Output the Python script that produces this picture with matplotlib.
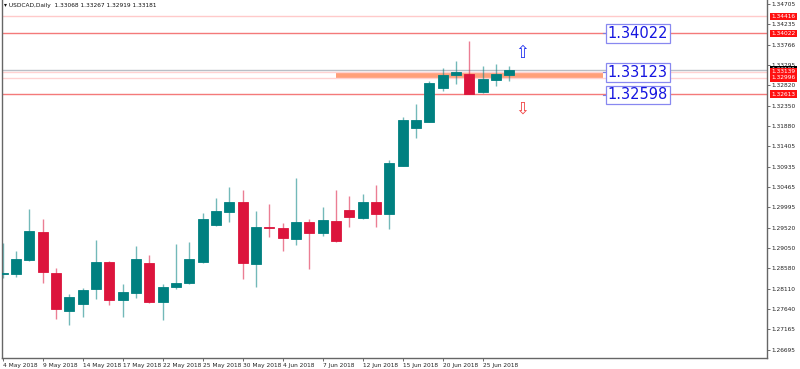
import numpy as np
import matplotlib
matplotlib.use('Agg')
import matplotlib.pyplot as plt
import matplotlib.transforms as mtransforms

# USDCAD daily bars, 4 May 2018 .. 27 Jun 2018
dates = ['4 May', '7 May', '8 May', '9 May', '10 May', '11 May', '14 May',
         '15 May', '16 May', '17 May', '18 May', '21 May', '22 May', '23 May',
         '24 May', '25 May', '28 May', '29 May', '30 May', '31 May', '1 Jun',
         '4 Jun', '5 Jun', '6 Jun', '7 Jun', '8 Jun', '11 Jun', '12 Jun',
         '13 Jun', '14 Jun', '15 Jun', '18 Jun', '19 Jun', '20 Jun', '21 Jun',
         '22 Jun', '25 Jun', '26 Jun', '27 Jun']
opens = [1.28449, 1.28449, 1.28774, 1.29422, 1.28472, 1.27592, 1.27754,
         1.28102, 1.28727, 1.27847, 1.28009, 1.28704, 1.27800, 1.28148,
         1.28241, 1.28727, 1.29584, 1.29886, 1.30117, 1.28681, 1.29538,
         1.29515, 1.29260, 1.29654, 1.29399, 1.29677, 1.29932, 1.29747,
         1.30117, 1.29839, 1.30951, 1.31832, 1.31971, 1.32759, 1.33060,
         1.33083, 1.32666, 1.32944, 1.33068]
highs = [1.29167, 1.28982, 1.29955, 1.29723, 1.28588, 1.27986, 1.28125,
         1.29237, 1.28750, 1.28217, 1.29098, 1.28889, 1.28217, 1.29144,
         1.29191, 1.29862, 1.30210, 1.30465, 1.30395, 1.29909, 1.30071,
         1.29631, 1.30673, 1.29723, 1.30001, 1.30395, 1.30256, 1.30303,
         1.30511, 1.31090, 1.32087, 1.32388, 1.32921, 1.33222, 1.33384,
         1.33848, 1.33268, 1.33315, 1.33267]
lows = [1.28356, 1.28380, 1.28750, 1.28241, 1.27406, 1.27267, 1.27453,
        1.27870, 1.27731, 1.27453, 1.27893, 1.27777, 1.27383, 1.28102,
        1.28217, 1.28704, 1.29561, 1.29654, 1.28333, 1.28148, 1.29306,
        1.28982, 1.29121, 1.28565, 1.29330, 1.29191, 1.29538, 1.29723,
        1.29538, 1.29492, 1.30951, 1.31600, 1.31971, 1.32689, 1.32851,
        1.32620, 1.32643, 1.32805, 1.32919]
closes = [1.28472, 1.28797, 1.29445, 1.28495, 1.27638, 1.27916, 1.28078,
          1.28727, 1.27847, 1.28032, 1.28797, 1.27800, 1.28148, 1.28241,
          1.28797, 1.29723, 1.29909, 1.30117, 1.28704, 1.29538, 1.29515,
          1.29283, 1.29654, 1.29399, 1.29700, 1.29214, 1.29770, 1.30117,
          1.29839, 1.31021, 1.32017, 1.32017, 1.32875, 1.33060, 1.33129,
          1.32620, 1.32967, 1.33083, 1.33181]

# levels drawn on the chart
resistance_levels = [1.34022, 1.33123, 1.32598]
alert_lines = [1.34416, 1.34022, 1.33139, 1.32996, 1.32613]
zone_top, zone_bottom = 1.33129, 1.32990
zone_start, zone_end = 25, 45
bid = 1.33181
arrow_bar = 39
arrow_up, arrow_down = 1.33560, 1.32290

price_ticks = [1.34705, 1.34235, 1.33766, 1.33295, 1.32820, 1.32350, 1.31880,
               1.31405, 1.30935, 1.30465, 1.29995, 1.29520, 1.29050, 1.28580,
               1.28110, 1.27640, 1.27165, 1.26695]

BULL = '#008080'
BEAR = '#DC143C'

fig = plt.figure(figsize=(8, 3.69), dpi=100)
ax = fig.add_axes([2 / 800, 11 / 369, 765 / 800, 358 / 369])

x = np.arange(len(dates))
o = np.array(opens)
c = np.array(closes)
cols = [BULL if cc >= oo else BEAR for oo, cc in zip(o, c)]

# zone + lines
ax.fill_between([zone_start, zone_end], zone_bottom, zone_top,
                color='#FFA07A', lw=0, zorder=1)
ax.axhline(alert_lines[0], color='#FFCACA', lw=1, zorder=1)
ax.axhline(alert_lines[1], color='#F47A7A', lw=1, zorder=1)
ax.axhline(alert_lines[2], color='#FFD2D2', lw=1, zorder=1)
ax.axhline(alert_lines[3], color='#FFD2D2', lw=1, zorder=1)
ax.axhline(alert_lines[4], color='#F47A7A', lw=1, zorder=1)
ax.axhline(bid, color='#B8BEC6', lw=1, zorder=1)

# candles
ax.vlines(x, lows, highs, colors=cols, lw=1, alpha=0.55, zorder=2)
body = np.maximum(np.abs(c - o), 0.00004)
ax.bar(x, body, bottom=np.minimum(o, c), width=0.75, color=cols,
       edgecolor=cols, linewidth=0.6, zorder=3)

# boxed level labels
for lvl in resistance_levels:
    ax.plot([zone_end, zone_end + 0.4], [lvl, lvl], color='#8080E0', lw=0.8,
            zorder=4)
    ax.text(zone_end + 0.4, lvl, '{:.5f}'.format(lvl), fontsize=10.5,
            color='#1515E0', va='center', ha='left', zorder=5,
            bbox=dict(boxstyle='square,pad=0.12', fc='white', ec='#8888F0',
                      lw=0.9))

ax.text(arrow_bar, arrow_up, '\u21e7', color='#2030F0', fontsize=12,
        ha='center', va='center')
ax.text(arrow_bar, arrow_down, '\u21e9', color='#F04040', fontsize=12,
        ha='center', va='center')

ax.set_xlim(-0.05, 57.34)
ax.set_ylim(1.26503, 1.347977)

ax.set_xticks(x[::3])
ax.set_xticklabels([d + ' 2018' for d in dates[::3]], fontsize=4.2,
                   ha='left', color='#222222')
ax.yaxis.tick_right()
ax.set_yticks(price_ticks)
ax.set_yticklabels(['{:.5f}'.format(p) for p in price_ticks], fontsize=4.2,
                   color='#222222')
ax.tick_params(axis='both', length=2, width=0.6, color='#555555', pad=1.5)

for s in ['left', 'bottom', 'right']:
    ax.spines[s].set_color('#666666')
    ax.spines[s].set_linewidth(1)
ax.spines['top'].set_visible(False)

# price tags on the right axis
trans = mtransforms.blended_transform_factory(ax.transAxes, ax.transData)
ax.text(1.006, bid, '{:.5f}'.format(bid), transform=trans,
        fontsize=4.2, color='white', va='center', ha='left', clip_on=False,
        bbox=dict(boxstyle='square,pad=0.25', fc='black', ec='none'))
for lvl in alert_lines:
    ax.text(1.006, lvl, '{:.5f}'.format(lvl), transform=trans, fontsize=4.2,
            color='white', va='center', ha='left', clip_on=False,
            bbox=dict(boxstyle='square,pad=0.25', fc='#FF1010', ec='none'))

fig.text(4 / 800, 1 - 5 / 369, '\u25be USDCAD,Daily  {:.5f} {:.5f} {:.5f} {:.5f}'
         .format(opens[-1], highs[-1], lows[-1], closes[-1]),
         fontsize=4.2, va='center', ha='left', color='#111111')

fig.savefig('out.png', dpi=100)
